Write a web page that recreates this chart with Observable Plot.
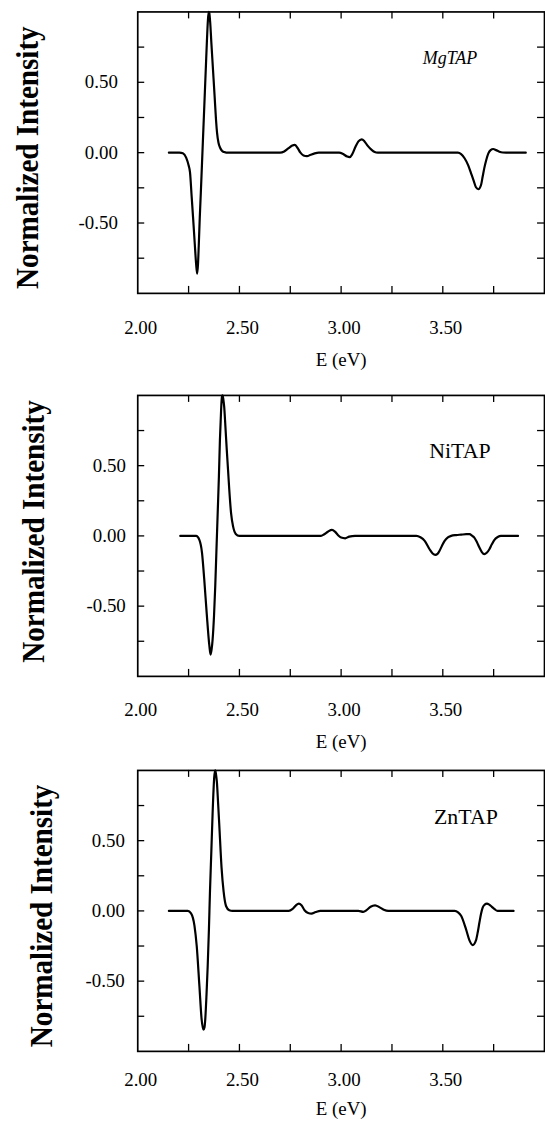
<!DOCTYPE html>
<html><head><meta charset="utf-8">
<script src="https://cdn.jsdelivr.net/npm/d3@7"></script>
<script src="https://cdn.jsdelivr.net/npm/@observablehq/plot@0.6"></script>
<style>
html,body{margin:0;padding:0;background:#fff;overflow:hidden;}
#wrap{position:relative;width:545px;height:1121px;overflow:hidden;background:#fff;}
.panel{position:absolute;left:0;}
</style></head><body><div id="wrap"></div>
<script>
// ---- data ----
const mgE = [2.153, 2.205, 2.222, 2.238, 2.250, 2.257, 2.265, 2.272, 2.280, 2.287, 2.292, 2.296, 2.300, 2.305, 2.310, 2.315, 2.320, 2.325, 2.330, 2.335, 2.340, 2.345, 2.349, 2.352, 2.356, 2.362, 2.370, 2.378, 2.385, 2.390, 2.397, 2.405, 2.415, 2.425, 2.435, 2.700, 2.720, 2.740, 2.760, 2.772, 2.785, 2.800, 2.815, 2.832, 2.850, 2.870, 2.890, 2.990, 3.010, 3.030, 3.042, 3.055, 3.070, 3.085, 3.101, 3.115, 3.130, 3.150, 3.165, 3.180, 3.574, 3.590, 3.607, 3.625, 3.639, 3.652, 3.663, 3.675, 3.688, 3.696, 3.704, 3.714, 3.724, 3.735, 3.748, 3.762, 3.778, 3.795, 3.810, 3.908];
const mgI = [0, 0, -0.005, -0.035, -0.09, -0.14, -0.31, -0.46, -0.64, -0.79, -0.86, -0.80, -0.66, -0.46, -0.29, -0.11, 0.07, 0.25, 0.43, 0.61, 0.79, 0.94, 1.0, 0.99, 0.93, 0.78, 0.59, 0.40, 0.23, 0.14, 0.07, 0.035, 0.012, 0.004, 0, 0, 0.008, 0.03, 0.05, 0.055, 0.035, 0.0, -0.02, -0.025, -0.015, -0.005, 0, 0, -0.01, -0.028, -0.032, -0.01, 0.04, 0.08, 0.095, 0.08, 0.05, 0.02, 0.005, 0, 0, -0.01, -0.04, -0.09, -0.147, -0.20, -0.246, -0.26, -0.23, -0.17, -0.11, -0.05, -0.005, 0.018, 0.026, 0.018, 0.007, 0.001, 0, 0];

const niE = [2.209, 2.287, 2.303, 2.316, 2.327, 2.339, 2.352, 2.358, 2.363, 2.368, 2.375, 2.381, 2.387, 2.393, 2.399, 2.404, 2.410, 2.414, 2.417, 2.421, 2.425, 2.431, 2.437, 2.444, 2.450, 2.459, 2.469, 2.482, 2.499, 2.898, 2.915, 2.935, 2.955, 2.970, 2.985, 3.000, 3.020, 3.040, 3.069, 3.370, 3.390, 3.411, 3.435, 3.450, 3.463, 3.474, 3.484, 3.496, 3.509, 3.525, 3.541, 3.565, 3.590, 3.615, 3.631, 3.645, 3.655, 3.668, 3.680, 3.692, 3.704, 3.716, 3.729, 3.741, 3.753, 3.770, 3.786, 3.870];
const niI = [0, 0, -0.028, -0.12, -0.31, -0.55, -0.78, -0.845, -0.81, -0.74, -0.57, -0.36, -0.10, 0.16, 0.42, 0.68, 0.90, 0.99, 1.0, 0.97, 0.92, 0.78, 0.63, 0.47, 0.33, 0.16, 0.066, 0.014, 0, 0, 0.01, 0.03, 0.043, 0.03, 0.005, -0.012, -0.017, -0.005, 0, 0, -0.01, -0.035, -0.095, -0.125, -0.135, -0.128, -0.106, -0.07, -0.035, -0.01, 0, 0.006, 0.009, 0.012, 0.012, 0.0, -0.012, -0.045, -0.083, -0.115, -0.13, -0.12, -0.095, -0.06, -0.03, -0.008, 0, 0];

const znE = [2.153, 2.246, 2.262, 2.279, 2.290, 2.303, 2.314, 2.323, 2.328, 2.332, 2.338, 2.344, 2.350, 2.355, 2.362, 2.368, 2.376, 2.381, 2.385, 2.389, 2.395, 2.401, 2.412, 2.422, 2.434, 2.450, 2.466, 2.743, 2.760, 2.778, 2.792, 2.805, 2.820, 2.838, 2.854, 2.875, 2.898, 3.085, 3.109, 3.125, 3.145, 3.167, 3.190, 3.210, 3.232, 3.558, 3.575, 3.590, 3.614, 3.631, 3.647, 3.663, 3.672, 3.680, 3.688, 3.696, 3.706, 3.717, 3.728, 3.740, 3.755, 3.769, 3.848];
const znI = [0, 0, -0.017, -0.106, -0.25, -0.53, -0.77, -0.846, -0.83, -0.77, -0.60, -0.39, -0.13, 0.13, 0.43, 0.69, 0.95, 1.0, 0.97, 0.92, 0.77, 0.61, 0.31, 0.14, 0.035, 0.005, 0, 0, 0.012, 0.04, 0.052, 0.04, 0.005, -0.015, -0.019, -0.008, 0, 0, -0.007, 0.005, 0.03, 0.040, 0.025, 0.008, 0, 0, -0.01, -0.035, -0.13, -0.21, -0.243, -0.21, -0.15, -0.083, -0.02, 0.024, 0.045, 0.052, 0.045, 0.031, 0.012, 0, 0];

const sampleNames = ["MgTAP", "NiTAP", "ZnTAP"];
const xMinorTicks = [2.25, 2.5, 2.75, 3.0, 3.25, 3.5, 3.75];
const xTickLabels = [2.0, 2.5, 3.0, 3.5];
const yMinorTicks = [-0.75, -0.5, -0.25, 0, 0.25, 0.5, 0.75];
const yTickLabels = [-0.5, 0, 0.5];
const xTitle = "E (eV)";
const yTitle = "Normalized Intensity";

// ---- layout / style options ----
const FONT = "'Liberation Serif', 'Times New Roman', Times, serif";
const W = 548, H = 380, mL = 138, mR = 1, mB = 85.5;
const panels = [
  {name: sampleNames[0], E: mgE, I: mgI, top: 0,    mT: 11.5, italic: true,  nfs: 18, ndx: -95, ndy: 52,   ylabPad: 20, xlabPad: 27,   xtDy: 73.5, ytDx: -100, ytDy: 5},
  {name: sampleNames[1], E: niE, I: niI, top: 382.5, mT: 12,  italic: false, nfs: 22, ndx: -85, ndy: 62.5, ylabPad: 12, xlabPad: 26,   xtDy: 72,   ytDx: -94,  ytDy: -4.5},
  {name: sampleNames[2], E: znE, I: znI, top: 758,  mT: 12,   italic: false, nfs: 22, ndx: -79, ndy: 53.5, ylabPad: 13, xlabPad: 21.5, xtDy: 64,   ytDx: -86,  ytDy: 5}
];
const fmt = d => d.toFixed(2);
const wrap = document.getElementById("wrap");

for (const p of panels) {
  const plotW = W - mL - mR, plotH = H - p.mT - mB;
  const rows = p.E.map((e, i) => ({e, v: p.I[i]}));
  const svg = Plot.plot({
    width: W, height: H,
    marginLeft: mL, marginRight: mR, marginTop: p.mT, marginBottom: mB,
    x: {domain: [2, 4]},
    y: {domain: [-1, 1]},
    style: {fontFamily: FONT, fontSize: "19px", background: "transparent", color: "black", overflow: "visible"},
    marks: [
      Plot.tickX(xMinorTicks, {x: d => d, insetTop: plotH - 7, stroke: "black", strokeWidth: 1.3}),
      Plot.tickX(xMinorTicks, {x: d => d, insetBottom: plotH - 7, stroke: "black", strokeWidth: 1.3}),
      Plot.tickY(yMinorTicks, {y: d => d, insetRight: plotW - 7, stroke: "black", strokeWidth: 1.3}),
      Plot.tickY(yMinorTicks, {y: d => d, insetLeft: plotW - 7, stroke: "black", strokeWidth: 1.3}),
      Plot.axisX(xTickLabels, {anchor: "bottom", tickSize: 0, tickPadding: p.xlabPad, tickFormat: fmt, fontSize: 19, fontFamily: FONT, dx: 3, label: null, fill: "black"}),
      Plot.axisY(yTickLabels, {anchor: "left", tickSize: 0, tickPadding: p.ylabPad, tickFormat: fmt, fontSize: 19, fontFamily: FONT, label: null, fill: "black"}),
      Plot.line(rows, {x: "e", y: "v", curve: "monotone-x", stroke: "black", strokeWidth: 2.2}),
      Plot.frame({stroke: "black", strokeWidth: 1.7}),
      Plot.text([p.name], {frameAnchor: "top-right", dx: p.ndx, dy: p.ndy, lineAnchor: "bottom", textAnchor: "middle",
        fontSize: p.nfs, fontFamily: FONT, fontStyle: p.italic ? "italic" : "normal", fill: "black"}),
      Plot.text([xTitle], {frameAnchor: "bottom", dy: p.xtDy, lineAnchor: "bottom", textAnchor: "middle", fontSize: 19, fontFamily: FONT, fill: "black"}),
      Plot.text([yTitle], {frameAnchor: "left", rotate: -90, dx: p.ytDx, dy: p.ytDy, lineAnchor: "bottom", textAnchor: "middle",
        fontSize: 32, fontFamily: FONT, fontWeight: "bold", fill: "black"})
    ]
  });
  svg.querySelectorAll("text").forEach(t => {
    if (t.textContent === yTitle) {
      t.setAttribute("textLength", 264);
      t.setAttribute("lengthAdjust", "spacingAndGlyphs");
    }
  });
  const div = document.createElement("div");
  div.className = "panel";
  div.style.top = p.top + "px";
  div.appendChild(svg);
  wrap.appendChild(div);
}
</script></body></html>
